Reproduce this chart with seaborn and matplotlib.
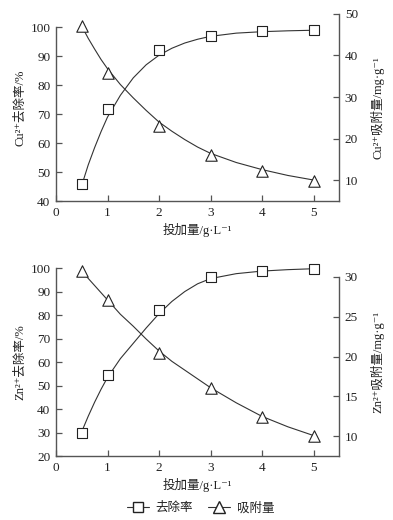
import numpy as np
import pandas as pd
import seaborn as sns
import matplotlib.pyplot as plt
from matplotlib.lines import Line2D

# measured points
dose = [0.5, 1, 2, 3, 4, 5]
cu_removal = [46.0, 71.7, 92.1, 96.8, 98.6, 98.9]
cu_capacity = [47.0, 35.8, 23.0, 16.2, 12.35, 9.9]
zn_removal = [30.0, 54.4, 82.0, 96.2, 98.6, 99.7]
zn_capacity = [30.7, 27.1, 20.5, 16.0, 12.4, 10.0]

# fitted curves
fit_x = [0.5, 0.625, 0.75, 0.875, 1, 1.25, 1.5, 1.75, 2, 2.25, 2.5, 2.75, 3, 3.5, 4, 4.5, 5]
cu_removal_fit = [45.5, 52.5, 58.5, 64.0, 69.0, 76.5, 82.5, 87.0, 90.3, 92.7, 94.5, 95.8, 96.8, 97.9, 98.4, 98.7, 98.9]
cu_capacity_fit = [47.0, 44.1, 41.5, 39.0, 36.8, 33.0, 29.8, 26.8, 24.0, 21.8, 19.8, 18.0, 16.5, 14.3, 12.6, 11.2, 10.1]
zn_removal_fit = [30.5, 37.0, 43.0, 48.5, 53.5, 61.5, 68.0, 74.5, 80.6, 85.8, 90.0, 93.3, 95.5, 97.6, 98.7, 99.3, 99.7]
zn_capacity_fit = [30.7, 29.8, 28.9, 28.0, 27.1, 25.3, 23.8, 22.2, 20.7, 19.4, 18.3, 17.2, 16.1, 14.2, 12.5, 11.2, 10.1]

xlabel = '投加量/g·L⁻¹'
legend_labels = ['去除率', '吸附量']

sns.set_style('ticks')
plt.rcParams['font.family'] = ['Liberation Serif', 'Noto Sans CJK SC', 'DejaVu Serif']
plt.rcParams['font.size'] = 9
plt.rcParams['text.color'] = '#222222'
plt.rcParams['axes.labelcolor'] = '#222222'
plt.rcParams['xtick.color'] = '#555555'
plt.rcParams['ytick.color'] = '#555555'
plt.rcParams['xtick.labelcolor'] = '#222222'
plt.rcParams['ytick.labelcolor'] = '#222222'

fig = plt.figure(figsize=(3.93, 5.2), dpi=100)
ax1 = fig.add_axes([0.1425, 0.6129, 0.7209, 0.3608])
ax2 = fig.add_axes([0.1425, 0.1225, 0.7209, 0.3621])

panels = [
    (ax1, cu_removal, cu_capacity, cu_removal_fit, cu_capacity_fit,
     (40, 104.6), (5, 50), (40, 100), (5, 50),
     np.arange(40, 101, 10), np.arange(10, 51, 10),
     'Cu²⁺去除率/%', 'Cu²⁺吸附量/mg·g⁻¹'),
    (ax2, zn_removal, zn_capacity, zn_removal_fit, zn_capacity_fit,
     (20, 100), (7.5, 31.1), (20, 100), (7.5, 30),
     np.arange(20, 101, 10), np.arange(10, 31, 5),
     'Zn²⁺去除率/%', 'Zn²⁺吸附量/mg·g⁻¹'),
]

for ax, rem, cap, rem_fit, cap_fit, ylim_l, ylim_r, bnd_l, bnd_r, ticks_l, ticks_r, lab_l, lab_r in panels:
    axr = ax.twinx()
    sns.lineplot(x=fit_x, y=rem_fit, ax=ax, color='#333333', lw=0.8)
    sns.scatterplot(x=dose, y=rem, ax=ax, marker='s', s=50, facecolor='white',
                    edgecolor='#222222', linewidth=0.8, zorder=3, clip_on=False)
    sns.lineplot(x=fit_x, y=cap_fit, ax=axr, color='#333333', lw=0.8)
    sns.scatterplot(x=dose, y=cap, ax=axr, marker='^', s=68, facecolor='white',
                    edgecolor='#222222', linewidth=0.8, zorder=3, clip_on=False)

    ax.set_xlim(0, 5.5)
    ax.set_ylim(*ylim_l)
    axr.set_ylim(*ylim_r)
    ax.set_xticks([0, 1, 2, 3, 4, 5])
    ax.set_yticks(ticks_l)
    axr.set_yticks(ticks_r)
    ax.spines['top'].set_visible(False)
    ax.spines['right'].set_visible(False)
    for side in ('top', 'left', 'bottom'):
        axr.spines[side].set_visible(False)
    ax.spines['left'].set_bounds(*bnd_l)
    axr.spines['right'].set_bounds(*bnd_r)
    for a in (ax, axr):
        for s in a.spines.values():
            s.set_color('#555555')
            s.set_linewidth(1.0)
        a.tick_params(direction='in', length=4, width=0.9, labelsize=9.5, pad=4)
    ax.set_xlabel(xlabel, fontsize=9, labelpad=3)
    ax.set_ylabel(lab_l, fontsize=9, labelpad=3)
    axr.set_ylabel(lab_r, fontsize=9, labelpad=9)

handles = [
    Line2D([], [], color='#333333', lw=0.8, marker='s', markersize=7,
           markerfacecolor='white', markeredgecolor='#222222'),
    Line2D([], [], color='#333333', lw=0.8, marker='^', markersize=8,
           markerfacecolor='white', markeredgecolor='#222222'),
]
fig.legend(handles, legend_labels, loc='center', bbox_to_anchor=(0.51, 0.023),
           ncol=2, frameon=False, fontsize=9, handlelength=1.8, columnspacing=1.2,
           handletextpad=0.5)

fig.savefig('out.png', dpi=100)
